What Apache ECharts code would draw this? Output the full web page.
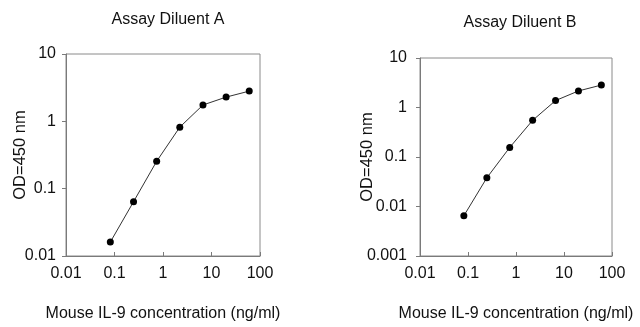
<!DOCTYPE html>
<html>
<head>
<meta charset="utf-8">
<script src="https://cdn.jsdelivr.net/npm/echarts@6/dist/echarts.min.js"></script>
<style>
html,body{margin:0;padding:0;background:#fff;}
#c{width:640px;height:327px;}
</style>
</head>
<body>
<div id="c"></div>
<script>
// Data
const concentration = [0.082, 0.247, 0.74, 2.22, 6.67, 20, 60];
const odA = [0.0161, 0.064, 0.255, 0.82, 1.75, 2.29, 2.81];
const odB = [0.0065, 0.038, 0.156, 0.55, 1.38, 2.16, 2.84];
const xTickLabels = ['0.01', '0.1', '1', '10', '100'];
const yTickLabelsA = ['0.01', '0.1', '1', '10'];
const yTickLabelsB = ['0.001', '0.01', '0.1', '1', '10'];
const titles = ['Assay Diluent A', 'Assay Diluent B'];
const xName = 'Mouse IL-9 concentration (ng/ml)';
const yName = 'OD=450 nm';

const FONT = '"Liberation Sans", Arial, sans-serif';
const TXT = '#111';

function fmt(labels) {
  return function (v) {
    const e = Math.round(Math.log10(v));
    for (const l of labels) {
      if (Math.round(Math.log10(parseFloat(l))) === e) return l;
    }
    return '';
  };
}

function xAxis(gi) {
  return {
    gridIndex: gi, type: 'log', logBase: 10, min: 0.01, max: 100,
    name: xName, nameLocation: 'middle', nameGap: 50, nameMoveOverlap: false,
    nameTextStyle: { fontFamily: FONT, fontSize: 16, color: TXT },
    axisLine: { lineStyle: { color: '#7a7a7a', width: 1 } },
    axisTick: { inside: true, length: 4, lineStyle: { color: '#7a7a7a' } },
    axisLabel: { fontFamily: FONT, fontSize: 16, color: TXT, margin: 10, formatter: fmt(xTickLabels) },
    splitLine: { show: false }, minorTick: { show: false }
  };
}
function yAxis(gi, min, labels, gap, margin) {
  return {
    gridIndex: gi, type: 'log', logBase: 10, min: min, max: 10,
    name: yName, nameLocation: 'middle', nameGap: gap, nameMoveOverlap: false,
    nameTextStyle: { fontFamily: FONT, fontSize: 16.5, color: TXT },
    axisLine: { lineStyle: { color: '#7a7a7a', width: 1 } },
    axisTick: { inside: false, length: 4, lineStyle: { color: '#7a7a7a' } },
    axisLabel: { fontFamily: FONT, fontSize: 16, color: TXT, margin: margin, formatter: fmt(labels) },
    splitLine: { show: false }, minorTick: { show: false }
  };
}
function pairs(xs, ys) { return xs.map((x, i) => [x, ys[i]]); }

const chart = echarts.init(document.getElementById('c'), null, { renderer: 'canvas' });
chart.setOption({
  animation: false,
  backgroundColor: '#fff',
  title: [
    { text: titles[0], left: 163, top: 7, textAlign: 'center', textStyle: { fontFamily: FONT, fontSize: 16, fontWeight: 'normal', color: TXT } },
    { text: titles[1], left: 515, top: 10, textAlign: 'center', textStyle: { fontFamily: FONT, fontSize: 16, fontWeight: 'normal', color: TXT } }
  ],
  grid: [
    { left: 66, top: 54, width: 194, height: 203, show: true, borderColor: '#8a8a8a', borderWidth: 1, backgroundColor: 'transparent' },
    { left: 420, top: 58, width: 192, height: 200, show: true, borderColor: '#8a8a8a', borderWidth: 1, backgroundColor: 'transparent' }
  ],
  xAxis: [xAxis(0), xAxis(1)],
  yAxis: [yAxis(0, 0.01, yTickLabelsA, 37, 10), yAxis(1, 0.001, yTickLabelsB, 44, 13)],
  series: [
    { type: 'line', xAxisIndex: 0, yAxisIndex: 0, data: pairs(concentration, odA),
      symbol: 'circle', symbolSize: 7, itemStyle: { color: '#000' }, lineStyle: { color: '#333', width: 1 } },
    { type: 'line', xAxisIndex: 1, yAxisIndex: 1, data: pairs(concentration, odB),
      symbol: 'circle', symbolSize: 7, itemStyle: { color: '#000' }, lineStyle: { color: '#333', width: 1 } }
  ]
});
</script>
</body>
</html>
